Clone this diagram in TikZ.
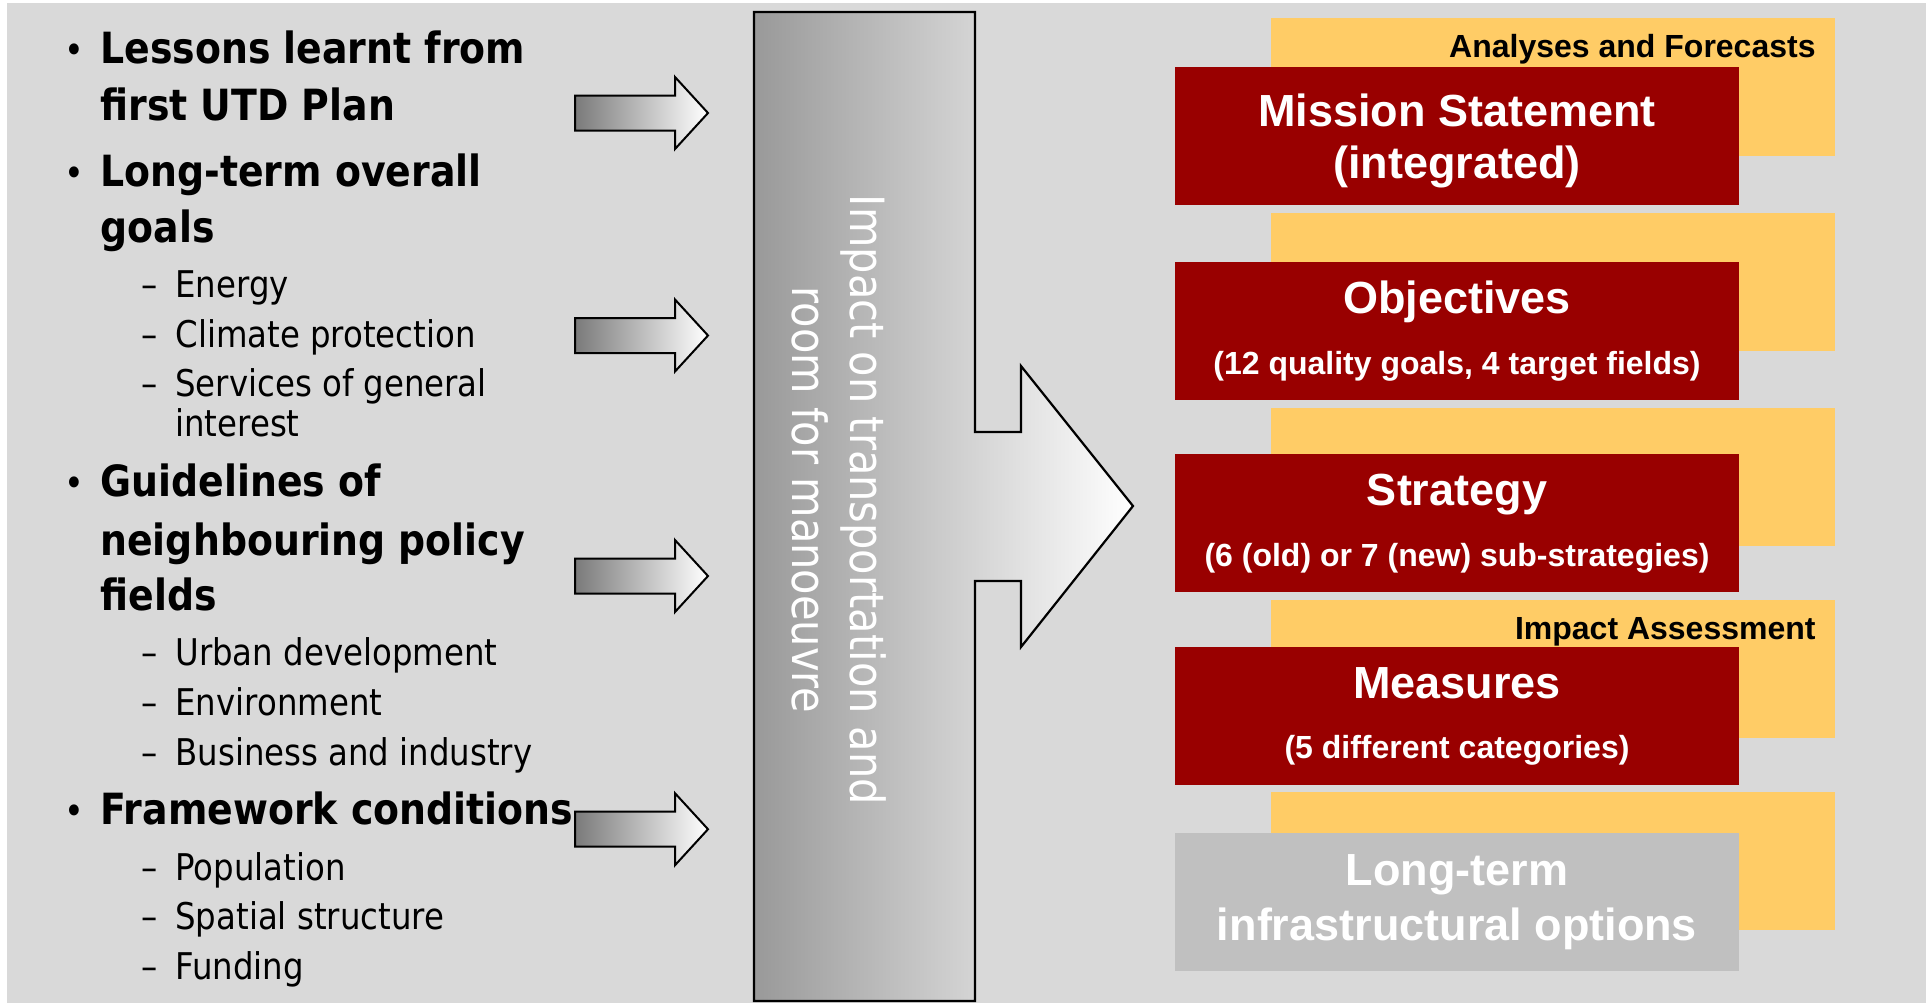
\documentclass[tikz,border=0pt]{standalone}
\usepackage{fontspec}
\setmainfont{Liberation Sans}
\newfontfamily\tahoma[FakeStretch=0.88]{DejaVu Sans}
\definecolor{panel}{HTML}{D9D9D9}
\definecolor{amber}{HTML}{FFCC66}
\definecolor{wine}{HTML}{990000}
\definecolor{stone}{HTML}{C0C0C0}

\begin{document}
\begin{tikzpicture}[x=0.5pt,y=-0.5pt,
  lead/.style={anchor=base west, inner sep=0pt, font={\tahoma\bfseries\fontsize{21.5pt}{25pt}\selectfont}},
  sub/.style={anchor=base west, inner sep=0pt, font={\tahoma\fontsize{18.4pt}{22pt}\selectfont}},
  glyph/.style={anchor=base, inner sep=0pt, font={\tahoma\fontsize{18.4pt}{22pt}\selectfont}},
  dot/.style={anchor=base, inner sep=0pt, font={\tahoma\fontsize{19pt}{22pt}\selectfont}},
  title/.style={anchor=base, inner sep=0pt, text=white, font={\bfseries\fontsize{22.5pt}{26pt}\selectfont}},
  detail/.style={anchor=base, inner sep=0pt, text=white, font={\bfseries\fontsize{16pt}{19pt}\selectfont}},
  tag/.style={anchor=base east, inner sep=0pt, font={\bfseries\fontsize{16pt}{19pt}\selectfont}},
  turned/.style={anchor=base, inner sep=0pt, rotate=-90, text=white, font={\tahoma\fontsize{23.6pt}{28pt}\selectfont}},
  feedarrow/.pic={
    \path[draw=black, line width=1pt, left color=black!52, right color=white]
      (0,-17.5) -- (100,-17.5) -- (100,-36) -- (133,0) -- (100,36) -- (100,17.5) -- (0,17.5) -- cycle;
  },
]
% canvas and panel
\useasboundingbox (0,0) rectangle (1926,1003);
\fill[white] (0,0) rectangle (1926,1003);
\fill[panel] (7,3) rectangle (1926,1003);

% left column: inputs
\node[dot] (b1) at (74,63.3) {•};
\node[lead] (l1a) at (100,63.3) {Lessons learnt from};
\node[lead] (l1b) at (100,120) {first UTD Plan};
\node[dot] (b2) at (74,186.7) {•};
\node[lead] (l2a) at (100,186.7) {Long-term overall};
\node[lead] (l2b) at (100,242.7) {goals};
\node[glyph] (d21) at (150,297.7) {–};
\node[sub] (s21) at (175,297.7) {Energy};
\node[glyph] (d22) at (150,347.7) {–};
\node[sub] (s22) at (175,347.7) {Climate protection};
\node[glyph] (d23) at (150,396.7) {–};
\node[sub] (s23) at (175,396.7) {Services of general};
\node[sub] (s23b) at (175,436.7) {interest};
\node[dot] (b3) at (74,496.7) {•};
\node[lead] (l3a) at (100,496.7) {Guidelines of};
\node[lead] (l3b) at (100,555) {neighbouring policy};
\node[lead] (l3c) at (100,610) {fields};
\node[glyph] (d31) at (150,665.7) {–};
\node[sub] (s31) at (175,665.7) {Urban development};
\node[glyph] (d32) at (150,715) {–};
\node[sub] (s32) at (175,715) {Environment};
\node[glyph] (d33) at (150,765) {–};
\node[sub] (s33) at (175,765) {Business and industry};
\node[dot] (b4) at (74,824.3) {•};
\node[lead] (l4a) at (100,824.3) {Framework conditions};
\node[glyph] (d41) at (150,880) {–};
\node[sub] (s41) at (175,880) {Population};
\node[glyph] (d42) at (150,929) {–};
\node[sub] (s42) at (175,929) {Spatial structure};
\node[glyph] (d43) at (150,979) {–};
\node[sub] (s43) at (175,979) {Funding};

% feed arrows into the central block
\coordinate (f1) at (575,113);
\coordinate (f2) at (575,335.5);
\coordinate (f3) at (575,576);
\coordinate (f4) at (575,829.2);
\foreach \f in {f1,f2,f3,f4} \pic at (\f) {feedarrow};

% central block with outgoing arrow
\path[draw=black, line width=1.1pt, left color=black!40, right color=white]
  (754,12) -- (975,12) -- (975,432) -- (1021,432) -- (1021,366) -- (1133,506)
  -- (1021,647) -- (1021,581) -- (975,581) -- (975,1001) -- (754,1001) -- cycle;
\node[turned] (imp1) at (850,500) {Impact on transportation and};
\node[turned] (imp2) at (792,500) {room for manoeuvre};

% right column: background tabs
\fill[amber] (1271,17.7) rectangle (1835,155.7);
\fill[amber] (1271,213) rectangle (1835,351);
\fill[amber] (1271,407.7) rectangle (1835,545.7);
\fill[amber] (1271,600) rectangle (1835,738);
\fill[amber] (1271,792) rectangle (1835,930);
\node[tag] (af) at (1816,57.3) {Analyses and Forecasts};
\node[tag] (ia) at (1816,639) {Impact Assessment};

% right column: planning levels
\fill[wine] (1175,67) rectangle (1739,204.7);
\fill[wine] (1175,262) rectangle (1739,399.7);
\fill[wine] (1175,454) rectangle (1739,591.7);
\fill[wine] (1175,647) rectangle (1739,784.7);
\fill[stone] (1175,833) rectangle (1739,970.7);

\node[title] (ms1) at (1457,126) {Mission Statement};
\node[title] (ms2) at (1457,178.5) {(integrated)};
\node[title] (ob1) at (1457,313.3) {Objectives};
\node[detail] (ob2) at (1457,374) {(12 quality goals, 4 target fields)};
\node[title] (st1) at (1457,505.5) {Strategy};
\node[detail] (st2) at (1457,566.5) {(6 (old) or 7 (new) sub-strategies)};
\node[title] (me1) at (1457,698.3) {Measures};
\node[detail] (me2) at (1457,758.3) {(5 different categories)};
\node[title] (lt1) at (1457,885) {Long-term};
\node[title] (lt2) at (1457,940) {infrastructural options};
\end{tikzpicture}
\end{document}
